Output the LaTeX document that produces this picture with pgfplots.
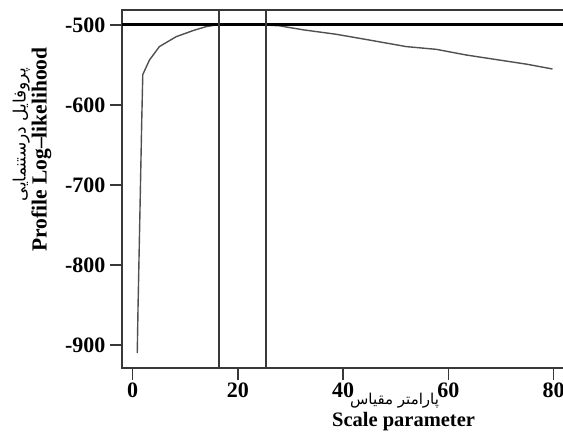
\documentclass[border=0pt]{standalone}
\usepackage{fontspec}
\setmainfont{Liberation Serif}
\newfontfamily\arabicfont[Script=Arabic]{DejaVu Sans}
\TeXXeTstate=1
\usepackage{pgfplots}
\pgfplotsset{compat=1.18}
\definecolor{linegray}{HTML}{383838}
\definecolor{curvegray}{HTML}{505050}
\begin{document}
\begin{tikzpicture}
\begin{axis}[
  scale only axis,
  width=563.1pt, height=358pt,
  xmin=-2, xmax=105, ymin=-928.75, ymax=-481.25,
  xtick={0,20,40,60,80,100}, ytick={-900,-800,-700,-600,-500},
  tick pos=left, tick align=outside,
  major tick length=12pt,
  axis line style={linegray, line width=1.8pt},
  every tick/.style={linegray, line width=1.5pt},
  /pgf/number format/assume math mode=true,
  ticklabel style={font=\fontsize{22}{24}\selectfont\bfseries},
  yticklabel style={xshift=-1pt},
  xticklabel style={yshift=1pt},
  xlabel={{\arabicfont\fontsize{15}{17}\selectfont\beginR پارامتر مقیاس\endR}\hspace*{18pt}\\[0pt]{\fontsize{20.5}{22}\selectfont\bfseries Scale parameter}},
  xlabel style={align=center, font=\fontsize{20}{22}\selectfont, yshift=11pt},
  ylabel={\hspace*{30pt}{\arabicfont\fontsize{17}{19}\selectfont\beginR پروفایل درستنمایی\endR}\\[-1pt]{\fontsize{21.5}{23}\selectfont\bfseries Profile Log--likelihood}},
  ylabel style={align=center, font=\fontsize{20}{22}\selectfont, at={(ticklabel cs:0.61)}, yshift=7pt},
  clip=true,
]
\addplot[curvegray, line width=1.4pt] coordinates {
(0.9,-910) (1.05,-852) (1.4,-737) (1.75,-620) (1.95,-562) (3.2,-544)
(5.1,-527) (8.3,-514.6) (11.5,-507) (14,-502) (16,-499.8) (18,-499)
(20,-498.7) (23,-499.3) (26,-500.3) (27.9,-501) (32.4,-506) (38.7,-511.6)
(45,-518.8) (52,-527) (57.7,-530.4) (63.4,-537.5) (69.7,-543.8)
(74.9,-549) (79.8,-555)};
\addplot[black, line width=2.8pt] coordinates {(-2,-499) (105,-499)};
\addplot[linegray, line width=1.9pt] coordinates {(16.5,-928.75) (16.5,-481.25)};
\addplot[linegray, line width=1.9pt] coordinates {(25.3,-928.75) (25.3,-481.25)};
\coordinate (SW) at (rel axis cs:0,0);
\coordinate (NW) at (rel axis cs:0,1);
\end{axis}
\pgfresetboundingbox
\useasboundingbox ([xshift=-122pt,yshift=-71pt]SW) rectangle ([xshift=441pt,yshift=10pt]NW);
\end{tikzpicture}
\end{document}
